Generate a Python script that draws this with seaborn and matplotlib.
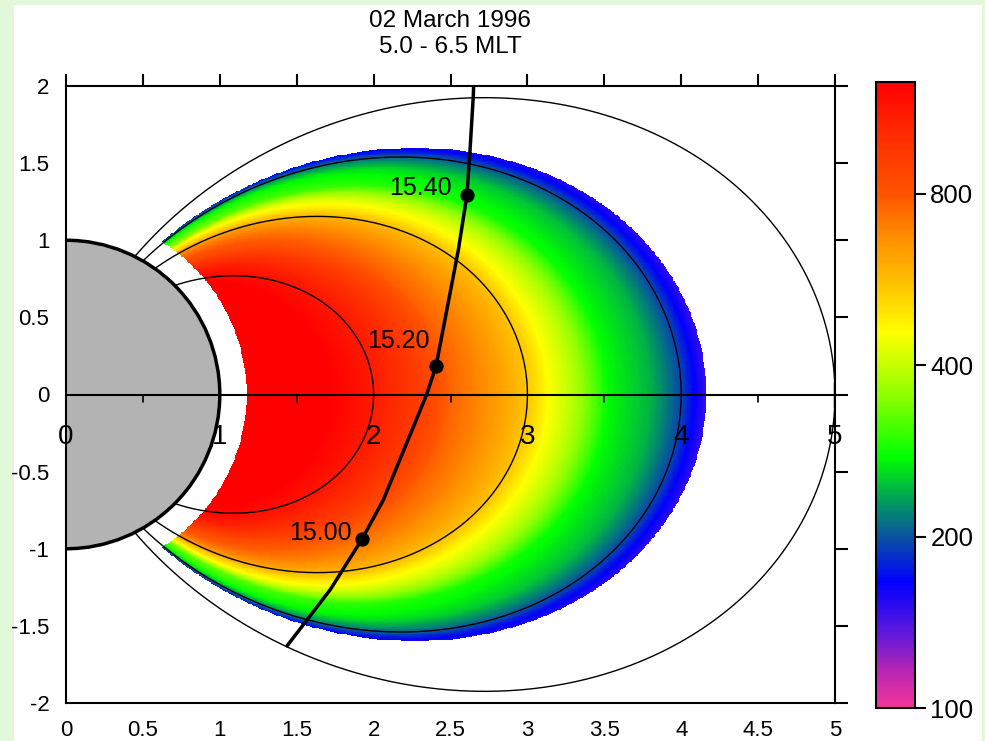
import numpy as np
import matplotlib
matplotlib.use("Agg")
import matplotlib.pyplot as plt
import seaborn as sns
from matplotlib.colors import LinearSegmentedColormap, LogNorm
from matplotlib.patches import Circle, Rectangle
from matplotlib.ticker import NullLocator

sns.set_theme(style="white")
plt.rcParams['font.family'] = ['Liberation Sans', 'DejaVu Sans']
plt.rcParams['text.color'] = 'black'

# equatorial electron density profile
L_prof = [1.15, 1.7, 2.0, 2.2, 2.5, 2.8, 3.0, 3.13, 3.3, 3.52, 3.8, 4.0, 4.08, 4.17]
n_prof = [1300, 1260, 1100, 980, 760, 635, 545, 457, 383, 275, 240, 193, 166, 145]
L_out = 4.16   # plasmapause field line
r_in = 1.17    # inner cut-off radius

# dipole field lines drawn
field_L = [2, 3, 4, 5]

# satellite track
orb_x = [1.437, 1.717, 1.925, 2.063, 2.345, 2.406, 2.551, 2.607, 2.627, 2.648, 2.652]
orb_y = [-1.63, -1.267, -0.937, -0.684, 0.0, 0.185, 0.937, 1.293, 1.585, 1.93, 2.05]

# time marks on the track
mark_x = [1.925, 2.406, 2.607]
mark_y = [-0.937, 0.185, 1.293]
mark_lab = ["15.00", "15.20", "15.40"]
lab_dx = [-0.065, -0.04, -0.10]
lab_dy = [0.04, 0.16, 0.045]

cbar_ticks = [100, 200, 400, 800]
n_min, n_max = 100, 1258

# rainbow-like colour table of the original plot
cmap = LinearSegmentedColormap.from_list("dens", [
    (0.00, "#F5359A"), (0.06, "#B525B5"), (0.11, "#6A1AD8"), (0.20, "#0000FF"),
    (0.27, "#0A4FA5"), (0.33, "#009C5C"), (0.40, "#00FF00"), (0.50, "#90FF00"),
    (0.60, "#FFFF00"), (0.68, "#FFC000"), (0.75, "#FF9000"), (0.82, "#FF5500"),
    (0.92, "#FF2A00"), (1.00, "#FF0000")])
norm = LogNorm(vmin=n_min, vmax=n_max)

# density on a grid: profile mapped along dipole field lines
xg = np.linspace(0, 5, 900)
yg = np.linspace(-2, 2, 720)
X, Y = np.meshgrid(xg, yg)
R = np.hypot(X, Y)
cos2 = (X / np.maximum(R, 1e-9)) ** 2
Lg = R / np.maximum(cos2, 1e-9)
dens = np.interp(Lg, L_prof, n_prof) * (Lg / np.maximum(R, 1e-9)) ** 0.2
dens = np.ma.masked_where((R < r_in) | (Lg > L_out), dens)

fig = plt.figure(figsize=(9.85, 7.41), dpi=100, facecolor="#E2F8D9")
fig.add_artist(Rectangle((14 / 985, 0), 968 / 985, 736 / 741, transform=fig.transFigure,
                         facecolor="white", edgecolor="none", zorder=-10))
ax = fig.add_axes([66 / 985, 38 / 741, 769 / 985, 617 / 741])
cax = fig.add_axes([876 / 985, 33 / 741, 39 / 985, 626 / 741])

im = ax.imshow(dens, extent=[0, 5, -2, 2], origin="lower", cmap=cmap, norm=norm,
               aspect="auto", interpolation="nearest", zorder=1)

ax.add_patch(Circle((0, 0), 1, facecolor="#B3B3B3", edgecolor="black", lw=2.5, zorder=3))

for L in field_L:
    lam0 = np.arccos(np.sqrt(1.0 / L))
    lam = np.linspace(-lam0, lam0, 500)
    ax.plot(L * np.cos(lam) ** 3, L * np.cos(lam) ** 2 * np.sin(lam),
            color="black", lw=1, zorder=2)

# equator axis with its own ticks and labels
ax.axhline(0, color="black", lw=1.5, zorder=4)
for xv in np.arange(0.5, 5, 1.0):
    ax.plot([xv, xv], [0, -0.05], color="black", lw=1.2, zorder=4)
ax.plot([5, 5], [-0.08, 0.08], color="black", lw=2.5, zorder=4)
for i in range(6):
    ax.text(i, -0.275, str(i), ha="center", va="center", fontsize=20, color="black", zorder=5)

# satellite track and time marks
sns.lineplot(x=orb_x, y=orb_y, sort=False, estimator=None, color="black", lw=2.5,
             ax=ax, zorder=5)
sns.scatterplot(x=mark_x, y=mark_y, s=90, color="black", edgecolor="black", ax=ax,
                zorder=6, legend=False)
for mx, my, lab, dx, dy in zip(mark_x, mark_y, mark_lab, lab_dx, lab_dy):
    ax.text(mx + dx, my + dy, lab, ha="right", va="center", fontsize=18,
            color="black", zorder=6)

ax.set_xlim(0, 5)
ax.set_ylim(-2, 2)
xt = np.arange(0, 5.01, 0.5)
yt = np.arange(-2, 2.01, 0.5)
ax.set_xticks(xt)
ax.set_xticklabels([f"{v:g}" for v in xt])
ax.set_yticks(yt)
ax.set_yticklabels([f"{v:g}" for v in yt])
ax.tick_params(direction="out", length=9, width=1.5, labelsize=16, colors="black",
               top=True, right=True, labeltop=False, labelright=False, pad=3)
for s in ax.spines.values():
    s.set_color("black")
    s.set_linewidth(1.5)
    s.set_zorder(6)
ax.set_xlabel("")
ax.set_ylabel("")

cb = fig.colorbar(im, cax=cax, ticks=cbar_ticks)
cax.yaxis.set_minor_locator(NullLocator())
cax.set_yticklabels([str(t) for t in cbar_ticks])
cax.tick_params(direction="out", length=8, width=1.5, labelsize=18.5, colors="black", pad=3)
cb.outline.set_edgecolor("black")
cb.outline.set_linewidth(1.5)

fig.text(450 / 985, 1 - 21 / 741, "02 March 1996", ha="center", va="center",
         fontsize=17.5, color="black")
fig.text(450 / 985, 1 - 47 / 741, "5.0 - 6.5 MLT", ha="center", va="center",
         fontsize=17.5, color="black")

fig.savefig("out.png", dpi=100, facecolor=fig.get_facecolor())
